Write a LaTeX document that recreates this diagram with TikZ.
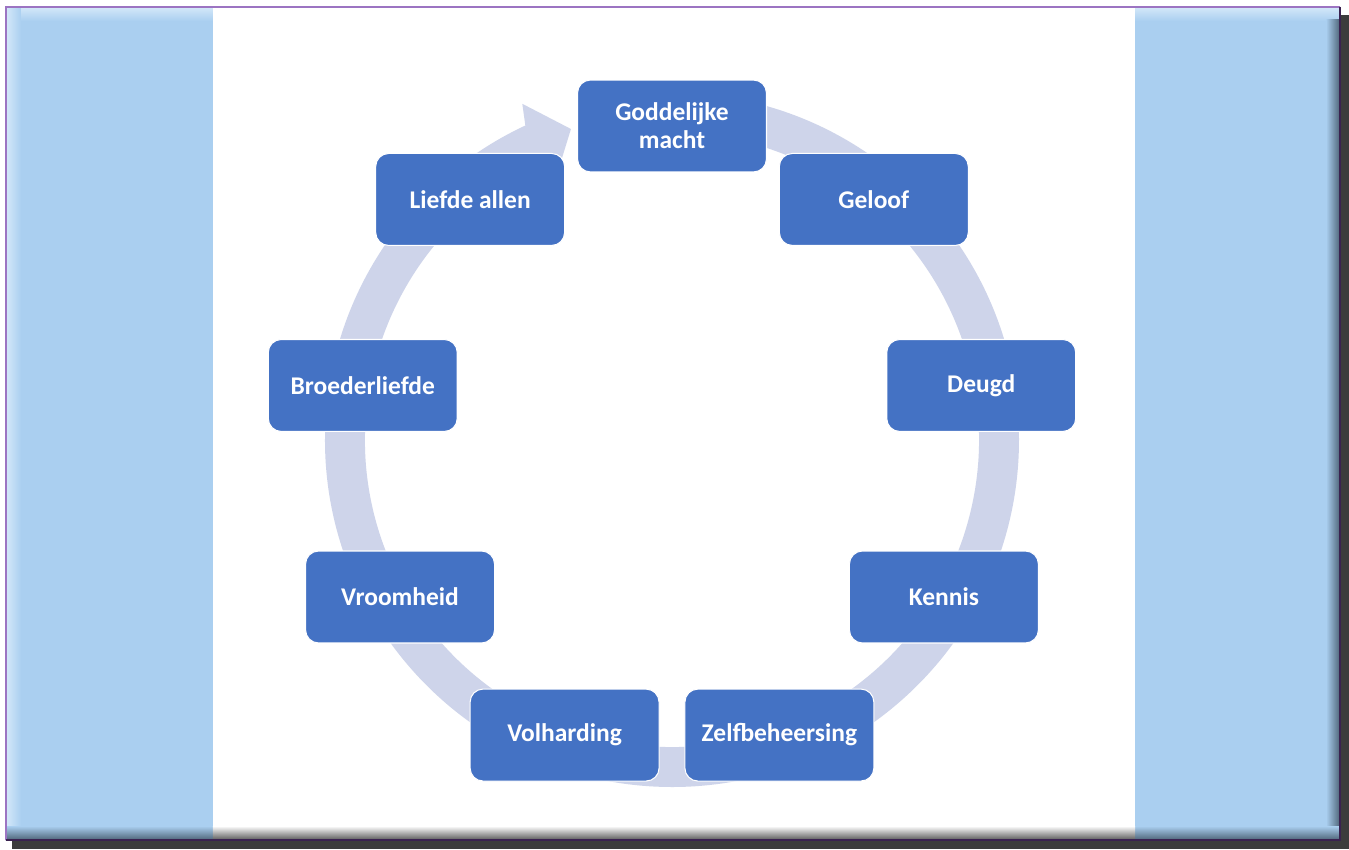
\documentclass[tikz,border=0pt]{standalone}
\usepackage{fontspec}
\setmainfont{Carlito}
\definecolor{boxblue}{HTML}{4472C4}
\definecolor{ringgrey}{HTML}{CED4EA}
\definecolor{sideblue}{HTML}{AACFF0}
\definecolor{sidelight}{HTML}{D4E8F9}
\definecolor{sidedark}{HTML}{4E6478}
\definecolor{framepurple}{HTML}{9C74C2}
\definecolor{framedark}{HTML}{3A2250}
\definecolor{shadowgrey}{HTML}{3C3C3C}
\begin{document}
\begin{tikzpicture}[x=0.02cm, y=0.02cm, main node/.style={rectangle, rounded corners=0.26cm, fill=boxblue, draw=white, line width=0.6pt, minimum width=3.78cm, minimum height=1.84cm, align=center, text=white, font=\fontsize{14.5}{16}\selectfont\bfseries}]
        \useasboundingbox (-672,-409) rectangle (677,440);

          % frame and shadow
          \fill[shadowgrey] (668,425) rectangle (677,-409);
          \fill[shadowgrey] (-660,-400) rectangle (677,-409);
          \fill[sideblue] (-666,433) rectangle (668,-400);
          \shade[top color=sidelight, bottom color=sideblue] (-666,433) rectangle (668,419);
          \shade[left color=sidelight, right color=sideblue] (-666,433) rectangle (-651,-400);
          \shade[left color=sideblue, right color=sidedark] (654,420) rectangle (668,-400);
          \shade[top color=sideblue, bottom color=sidedark] (-666,-386) rectangle (668,-400);
          \fill[white] (-459,432) rectangle (463,-386);
          \shade[top color=white, bottom color=gray!70!black] (-459,-386) rectangle (463,-400);
          \draw[framepurple, line width=1.2pt] (-666,-400) -- (-666,433) -- (668,433);
          \draw[framedark, line width=1.2pt] (668,433) -- (668,-400) -- (-666,-400);

          % cycle arrow
          \fill[ringgrey] (88:347) arc[start angle=88, end angle=-245, radius=347]
            -- (114:368) -- (108:327) -- (114:286) -- (115:307)
            arc[start angle=-245, end angle=88, radius=307] -- cycle;

          \node[main node] (1) at (90:314) {Goddelijke\\macht};
          \node[main node] (2) at (50:314) {Geloof};
          \node[main node] (3) at (10:314) {Deugd};
          \node[main node] (4) at (-30:314) {Kennis};
          \node[main node] (5) at (-70:314) {Zelfbeheersing};
          \node[main node] (6) at (-110:314) {Volharding};
          \node[main node] (7) at (-150:314) {Vroomheid};
          \node[main node] (8) at (170:314) {Broederliefde};
          \node[main node] (9) at (130:314) {Liefde allen};

        \end{tikzpicture}
\end{document}
